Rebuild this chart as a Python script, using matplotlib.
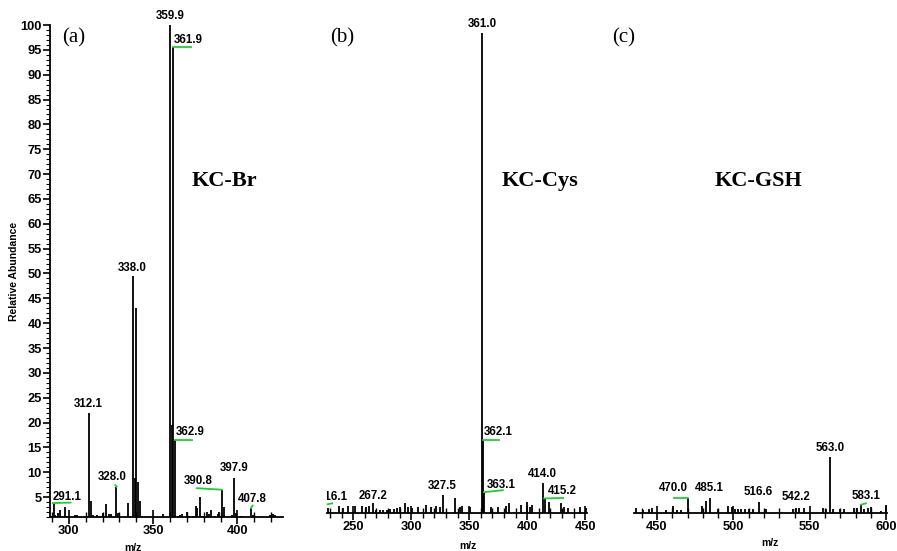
import matplotlib
matplotlib.use("Agg")
import matplotlib.pyplot as plt
from matplotlib.ticker import MultipleLocator

# ---- data (m/z, relative abundance) ----
mz_br = [291.1, 292.0, 293.5, 294.7, 297.5, 298.5, 303.5, 305.0, 312.1, 313.1,
         314.5, 316.5, 318.5, 320.0, 321.8, 323.5, 325.0, 328.0, 329.2, 334.8,
         338.0, 339.0, 340.0, 341.0, 342.0, 343.5, 355.8, 359.9, 360.9, 361.9,
         362.9, 364.5, 366.0, 367.3, 370.2, 371.5, 373.5, 375.5, 376.2, 377.6,
         379.5, 381.8, 383.0, 384.5, 386.5, 388.5, 389.3, 390.8, 391.8, 396.5,
         397.9, 399.3, 402.0, 407.8, 409.0, 419.5, 421.0, 422.5]
ab_br = [3.6, 1.5, 1.8, 2.5, 3.1, 1.2, 1.5, 1.5, 21.9, 4.2,
         1.5, 1.5, 1.3, 1.8, 3.6, 1.6, 1.6, 7.1, 1.8, 3.9,
         49.4, 8.8, 43.1, 8.1, 4.2, 1.2, 1.6, 100.0, 19.5, 95.5,
         16.5, 1.2, 1.4, 1.7, 2.0, 1.3, 1.3, 3.3, 2.8, 5.0,
         1.3, 2.1, 1.7, 2.5, 1.3, 1.6, 2.0, 6.4, 3.1, 1.4,
         8.8, 1.8, 1.2, 2.8, 1.4, 1.4, 1.6, 1.4]

mz_cys = [228.6, 237.5, 240.9, 245.2, 252.0, 257.8, 261.2, 264.0, 267.2, 270.0,
          273.0, 276.0, 279.0, 282.0, 285.0, 287.5, 290.0, 294.5, 297.5, 300.5,
          306.0, 313.2, 317.0, 321.0, 324.5, 327.5, 337.6, 341.9, 343.6, 350.3,
          361.0, 362.1, 363.1, 368.4, 375.0, 382.0, 384.3, 394.4, 400.2, 402.0,
          404.3, 414.0, 415.2, 418.9, 429.3, 432.0, 434.8, 445.8, 451.0]
ab_cys = [2.0, 2.4, 2.0, 2.4, 2.5, 2.5, 2.2, 2.4, 3.1, 1.7,
          1.7, 1.7, 1.7, 1.8, 1.9, 2.0, 2.2, 3.1, 2.2, 2.0,
          2.2, 2.7, 2.2, 2.5, 2.2, 4.8, 4.0, 2.2, 2.4, 2.2,
          100.0, 16.0, 5.3, 2.2, 2.2, 2.5, 3.1, 2.7, 3.3, 2.2,
          2.7, 7.2, 4.0, 3.3, 3.1, 2.2, 2.0, 2.2, 2.0]

mz_gsh = [436.0, 441.0, 445.0, 447.0, 456.0, 460.6, 463.0, 466.0, 470.0, 479.8,
          482.0, 484.6, 490.0, 496.8, 499.0, 501.0, 503.0, 505.0, 507.5, 510.0,
          513.0, 516.5, 521.5, 539.0, 541.0, 543.0, 546.0, 558.5, 560.5, 563.2,
          565.5, 570.0, 572.5, 579.0, 581.0, 583.4, 585.5, 587.8, 589.8, 596.5,
          600.0]
ab_gsh = [2.1, 1.6, 1.8, 2.0, 1.7, 2.4, 1.7, 1.7, 4.0, 2.4,
          3.5, 4.1, 1.8, 2.4, 2.2, 1.9, 1.9, 1.9, 1.8, 1.9,
          1.8, 3.3, 1.9, 1.9, 2.1, 2.0, 2.0, 2.1, 1.9, 12.5,
          1.8, 1.8, 1.9, 2.1, 2.0, 2.9, 1.8, 2.1, 2.3, 1.5,
          2.6]

# peak labels: (text, x, y, ha)
lab_br = [("359.9", 359.9, 100.6, "center"), ("361.9", 362.3, 95.8, "left"),
          ("338.0", 337.8, 49.8, "center"), ("312.1", 311.4, 22.6, "center"),
          ("362.9", 363.5, 16.8, "left"), ("328.0", 325.8, 7.9, "center"),
          ("397.9", 397.8, 9.6, "center"), ("390.8", 377.0, 7.0, "center"),
          ("407.8", 409.0, 3.5, "center"), ("291.1", 299.0, 3.9, "center")]
lab_cys = [("361.0", 361.0, 100.6, "center"), ("362.1", 362.6, 16.4, "left"),
           ("363.1", 365.5, 5.6, "left"), ("414.0", 413.0, 7.8, "center"),
           ("415.2", 418.0, 4.4, "left"), ("327.5", 327.0, 5.4, "center"),
           ("267.2", 267.3, 3.3, "center"), ("216.1", 233.2, 3.0, "center")]
lab_gsh = [("563.0", 563.2, 13.2, "center"), ("470.0", 460.6, 4.9, "center"),
           ("485.1", 484.6, 4.9, "center"), ("516.6", 516.5, 4.1, "center"),
           ("542.2", 541.0, 3.0, "center"), ("583.1", 586.7, 3.2, "center")]

# green leader lines: (x0, x1, y0, y1)
lead_br = [(361.9, 372.5, 95.5, 95.5), (362.9, 372.8, 16.5, 16.5),
           (375.8, 390.6, 6.8, 6.5), (290.5, 301.0, 3.8, 3.9),
           (327.6, 328.3, 7.4, 7.1), (408.0, 409.0, 2.8, 3.3)]
lead_cys = [(361.8, 375.6, 16.0, 16.0), (362.7, 379.0, 5.3, 5.7),
            (414.6, 431.0, 4.0, 4.1), (228.0, 232.0, 2.8, 3.0)]
lead_gsh = [(461.0, 470.0, 4.0, 4.0), (583.4, 586.7, 2.7, 3.0)]

plt.rcParams['font.family'] = ['Liberation Sans', 'DejaVu Sans']
num_font = dict(fontsize=8.3, fontweight='bold')

fig = plt.figure(figsize=(8.97, 5.51), dpi=100)

W, H = 897.0, 551.0
def make_ax(x0, x1, ytop, ybot):
    return fig.add_axes([x0 / W, (H - ybot) / H, (x1 - x0) / W, (ybot - ytop) / H])

ax_a = make_ax(50, 283, 25, 517)
ax_b = make_ax(327, 587, 33, 513)
ax_c = make_ax(634, 887, 33, 513)

panels = [
    (ax_a, mz_br, ab_br, lab_br, lead_br, (288.8, 427.0), "(a)", "KC-Br"),
    (ax_b, mz_cys, ab_cys, lab_cys, lead_cys, (227.5, 451.5), "(b)", "KC-Cys"),
    (ax_c, mz_gsh, ab_gsh, lab_gsh, lead_gsh, (435.0, 600.5), "(c)", "KC-GSH"),
]

for ax, mz, ab, labs, leads, xl, tag, name in panels:
    ax.vlines(mz, 0, ab, color='black', lw=1.3)
    ax.set_xlim(*xl)
    ax.set_ylim(1, 100)
    for s in ['top', 'right']:
        ax.spines[s].set_visible(False)
    ax.spines['bottom'].set_linewidth(1.3)
    ax.spines['left'].set_linewidth(1.3)
    ax.xaxis.set_major_locator(MultipleLocator(50))
    ax.xaxis.set_minor_locator(MultipleLocator(10))
    ax.tick_params(axis='x', which='major', direction='inout', length=10, width=1.2, pad=1)
    ax.tick_params(axis='x', which='minor', direction='inout', length=7, width=1.0)
    for t in ax.get_xticklabels():
        t.set_fontsize(9.3)
        t.set_fontweight('bold')
    for x0, x1, y0, y1 in leads:
        ax.plot([x0, x1], [y0, y1], color='#22cc33', lw=1.3, clip_on=False)
    for txt, x, y, ha in labs:
        ax.text(x, y, txt, ha=ha, va='bottom', clip_on=(txt == "216.1"), **num_font)
    ax.set_xlabel("m/z", fontsize=7.5, fontweight='bold')

# panel (a) has the y axis
ax_a.yaxis.set_minor_locator(MultipleLocator(1))
ax_a.set_yticks(range(5, 101, 5))
ax_a.tick_params(axis='y', which='major', direction='out', length=5, width=1.2, pad=1)
ax_a.tick_params(axis='y', which='minor', direction='out', length=3, width=0.8)
for t in ax_a.get_yticklabels():
    t.set_fontsize(9.3)
    t.set_fontweight('bold')
ax_a.set_ylabel("Relative Abundance", fontsize=7.5, fontweight='bold', labelpad=1)

for ax in (ax_b, ax_c):
    ax.spines['left'].set_visible(False)
    ax.set_yticks([])

ax_a.xaxis.set_label_coords((133 - 50) / 233.0, -0.052)
ax_b.xaxis.set_label_coords((468 - 327) / 260.0, -0.058)
ax_c.xaxis.set_label_coords((770 - 634) / 253.0, -0.052)

# panel tags and compound names
serif = ['Liberation Serif', 'DejaVu Serif']
for x, txt in [(62, "(a)"), (330, "(b)"), (612, "(c)")]:
    fig.text(x / W, 1 - 38 / H, txt, family=serif, fontsize=15, va='center', ha='left')
for x, txt in [(192, "KC-Br"), (502, "KC-Cys"), (715, "KC-GSH")]:
    fig.text(x / W, 1 - 181 / H, txt, family=serif, fontsize=16, fontweight='bold',
             va='center', ha='left')

fig.savefig("out.png", dpi=100)
